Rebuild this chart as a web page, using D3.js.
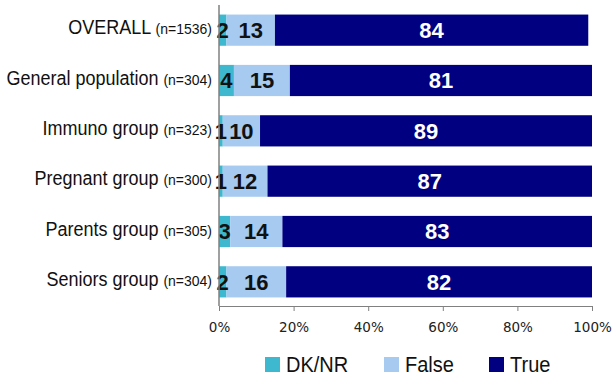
<!DOCTYPE html>
<html>
<head>
<meta charset="utf-8">
<script src="https://cdn.jsdelivr.net/npm/d3@7"></script>
<style>
  html, body { margin: 0; padding: 0; background: #fff; }
  svg { display: block; }
</style>
</head>
<body>
<svg id="chart" width="613" height="379"></svg>
<script>
// Survey groups, sample sizes and answer shares (%)
const categories = ["OVERALL", "General population", "Immuno group", "Pregnant group", "Parents group", "Seniors group"];
const sampleSizes = [1536, 304, 323, 300, 305, 304];
const dkNr = [2, 4, 1, 1, 3, 2];
const falseShare = [13, 15, 10, 12, 14, 16];
const trueShare = [84, 81, 89, 87, 83, 82];
const tickValues = [0, 20, 40, 60, 80, 100];

const seriesNames = ["DK/NR", "False", "True"];
const seriesColors = ["#3DB8CF", "#A6CAF0", "#000080"];
const labelColors = ["#111", "#111", "#fff"];

const rows = categories.map((c, i) => ({
  cat: c, n: sampleSizes[i],
  "DK/NR": dkNr[i], "False": falseShare[i], "True": trueShare[i]
}));

const svg = d3.select("#chart");
const x = d3.scaleLinear().domain([0, 100]).range([219, 592]);
const y = d3.scaleBand().domain(categories).range([5, 307]).paddingInner(0.38).paddingOuter(0.19);

const stack = d3.stack().keys(seriesNames)(rows);

const layers = svg.append("g").selectAll("g")
  .data(stack).join("g")
  .attr("fill", (d, i) => seriesColors[i]);

layers.selectAll("rect")
  .data(d => d).join("rect")
  .attr("x", d => x(d[0]))
  .attr("y", d => y(d.data.cat))
  .attr("width", d => x(d[1]) - x(d[0]))
  .attr("height", y.bandwidth());

// Segment value labels
svg.append("g").selectAll("g")
  .data(stack).join("g")
  .attr("fill", (d, i) => labelColors[i])
  .selectAll("text")
  .data(d => d).join("text")
  .attr("x", d => (x(d[0]) + x(d[1])) / 2)
  .attr("y", d => y(d.data.cat) + y.bandwidth() / 2)
  .attr("dy", "0.36em")
  .attr("text-anchor", "middle")
  .style("font", "bold 22px 'Liberation Sans', Arial, sans-serif")
  .text(d => d[1] - d[0]);

// Category labels with sample size (slightly tall lettering)
const catLabels = svg.append("g").selectAll("text")
  .data(rows).join("text")
  .attr("transform", d => `translate(212,${y(d.cat) + y.bandwidth() / 2 + 4}) scale(1,1.1)`)
  .attr("text-anchor", "end")
  .attr("fill", "#111")
  .style("font-family", "'Liberation Sans', Arial, sans-serif");
catLabels.append("tspan").style("font-size", "18px").text(d => d.cat + " ");
catLabels.append("tspan").style("font-size", "14px").text(d => `(n=${d.n})`);

// Axes
const xAxis = d3.axisBottom(x)
  .tickValues(tickValues)
  .tickFormat(d => d + "%")
  .tickSize(5)
  .tickSizeOuter(0)
  .tickPadding(11);
const gx = svg.append("g").attr("transform", "translate(0,306)").call(xAxis);
gx.select(".domain").attr("stroke", "#808080");
gx.selectAll(".tick line").attr("stroke", "#808080");
gx.selectAll(".tick text")
  .attr("fill", "#222")
  .style("font", "13.5px 'DejaVu Sans', Verdana, sans-serif");

svg.append("line")
  .attr("x1", x(0)).attr("x2", x(0))
  .attr("y1", 5).attr("y2", 306)
  .attr("stroke", "#808080").attr("stroke-width", 1.5);

// Legend
const legendX = [265, 384, 489];
const legend = svg.append("g").selectAll("g")
  .data(seriesNames).join("g")
  .attr("transform", (d, i) => `translate(${legendX[i]},357)`);
legend.append("rect")
  .attr("width", 15).attr("height", 15)
  .attr("fill", (d, i) => seriesColors[i]);
legend.append("text")
  .attr("transform", "translate(21,15) scale(1,1.1)")
  .attr("fill", "#111")
  .style("font", "20px 'Liberation Sans', Arial, sans-serif")
  .text(d => d);
</script>
</body>
</html>
